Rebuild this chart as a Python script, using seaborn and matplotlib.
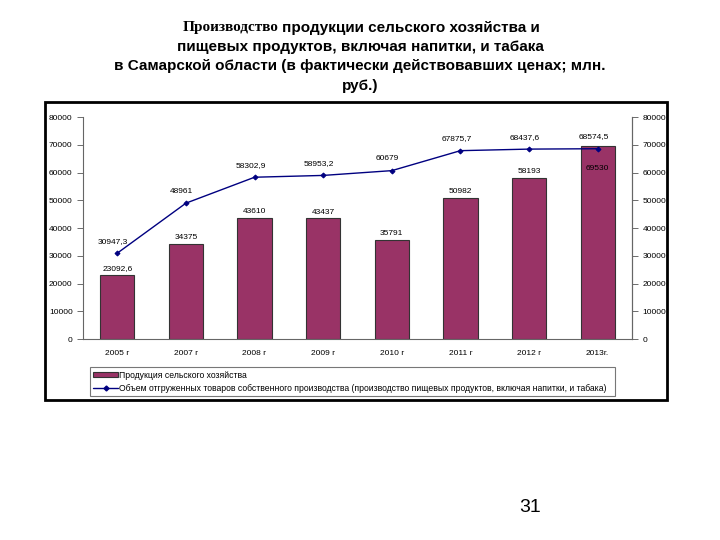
import numpy as np
import pandas as pd
import matplotlib
matplotlib.use("Agg")
import matplotlib.pyplot as plt
import matplotlib.patches as mpatches
from matplotlib.lines import Line2D
import seaborn as sns

# data
years = ["2005 г", "2007 г", "2008 г", "2009 г", "2010 г", "2011 г", "2012 г", "2013г."]
agri = [23092.6, 34375, 43610, 43437, 35791, 50982, 58193, 69530]
food = [30947.3, 48961, 58302.9, 58953.2, 60679, 67875.7, 68437.6, 68574.5]
agri_name = "Продукция сельского хозяйства"
food_name = ("Объем отгруженных товаров собственного производства "
             "(производство пищевых продуктов, включая напитки, и табака)")

bar_color = "#993366"
line_color = "#000080"

sns.set_style("white")
plt.rcParams["font.family"] = ["Liberation Sans", "DejaVu Sans"]
plt.rcParams["text.color"] = "black"
plt.rcParams["xtick.color"] = "black"
plt.rcParams["ytick.color"] = "black"

df = pd.DataFrame({"year": years, "agri": agri, "food": food})

fig = plt.figure(figsize=(7.2, 5.4), dpi=100)
ax = fig.add_axes([0.1153, 0.3722, 0.7625, 0.4111])

sns.barplot(data=df, x="year", y="agri", color=bar_color, width=0.5,
            edgecolor="#333333", linewidth=0.8, saturation=1, ax=ax)
sns.pointplot(data=df, x="year", y="food", color=line_color, markers="D",
              markersize=2.5, linewidth=1, ax=ax)

ax.set_xlim(-0.5, len(years) - 0.5)
ax.set_ylim(0, 80000)
ax.set_yticks(np.arange(0, 80001, 10000))
ax.set_xlabel("")
ax.set_ylabel("")
ax.set_xticks(np.arange(-0.5, len(years)), minor=True)
ax.tick_params(axis="x", which="major", length=0, labelsize=6, pad=8)
ax.tick_params(axis="x", which="minor", length=4, width=0.6, color="#555555")
ax.tick_params(axis="y", length=4, width=0.6, color="#555555", labelsize=6,
               left=True)
ax.spines["top"].set_visible(False)
for s in ["left", "bottom", "right"]:
    ax.spines[s].set_color("#666666")
    ax.spines[s].set_linewidth(0.8)

ax2 = ax.twinx()
ax2.set_ylim(0, 80000)
ax2.set_yticks(np.arange(0, 80001, 10000))
ax2.tick_params(axis="y", length=4, width=0.6, color="#555555", labelsize=6)
for s in ["top", "left", "bottom"]:
    ax2.spines[s].set_visible(False)
ax2.spines["right"].set_color("#666666")
ax2.spines["right"].set_linewidth(0.8)


def fmt(v):
    return str(v).replace(".", ",") if v != int(v) else str(int(v))


for i, v in enumerate(agri):
    dy = -16 if v > food[i] else 2
    va = "center" if v > food[i] else "bottom"
    ax.annotate(fmt(v), (i, v), xytext=(0, dy), textcoords="offset points",
                ha="center", va=va, fontsize=6)
for i, v in enumerate(food):
    ax.annotate(fmt(v), (i, v), xytext=(-3, 6), textcoords="offset points",
                ha="center", va="bottom", fontsize=6)

handles = [mpatches.Patch(facecolor=bar_color, edgecolor="#333333", linewidth=0.8),
           Line2D([0], [0], color=line_color, marker="D", markersize=2.5, linewidth=1)]
leg = fig.legend(handles, [agri_name, food_name],
                 bbox_to_anchor=(0.125, 0.265, 0.729, 0.055),
                 bbox_transform=fig.transFigure, loc="upper left", mode="expand",
                 fontsize=6.2, frameon=True, fancybox=False, borderpad=0.4,
                 handlelength=2.8, handleheight=0.6, handletextpad=0.2,
                 labelspacing=0.5, borderaxespad=0)
leg.get_frame().set_edgecolor("#555555")
leg.get_frame().set_linewidth(0.8)

# outer chart frame
fig.patches.append(mpatches.Rectangle((0.0625, 0.2593), 0.8639, 0.5519,
                                      transform=fig.transFigure, fill=False,
                                      edgecolor="black", linewidth=2))

# title
fig.text(0.3875, 1 - 28 / 540, "Производство", ha="right", va="center",
         fontsize=11, fontweight="bold", family="Liberation Serif")
fig.text(0.392, 1 - 28 / 540, "продукции сельского хозяйства и", ha="left",
         va="center", fontsize=11, fontweight="bold")
fig.text(0.5, 1 - 47 / 540, "пищевых продуктов, включая напитки, и табака",
         ha="center", va="center", fontsize=11, fontweight="bold")
fig.text(0.5, 1 - 66 / 540,
         "в Самарской области (в фактически действовавших ценах; млн.",
         ha="center", va="center", fontsize=11, fontweight="bold")
fig.text(0.5, 1 - 86 / 540, "руб.)", ha="center", va="center",
         fontsize=11, fontweight="bold")

fig.text(530 / 720, 1 - 508 / 540, "31", ha="center", va="center", fontsize=14)

fig.savefig("out.png", dpi=100)
